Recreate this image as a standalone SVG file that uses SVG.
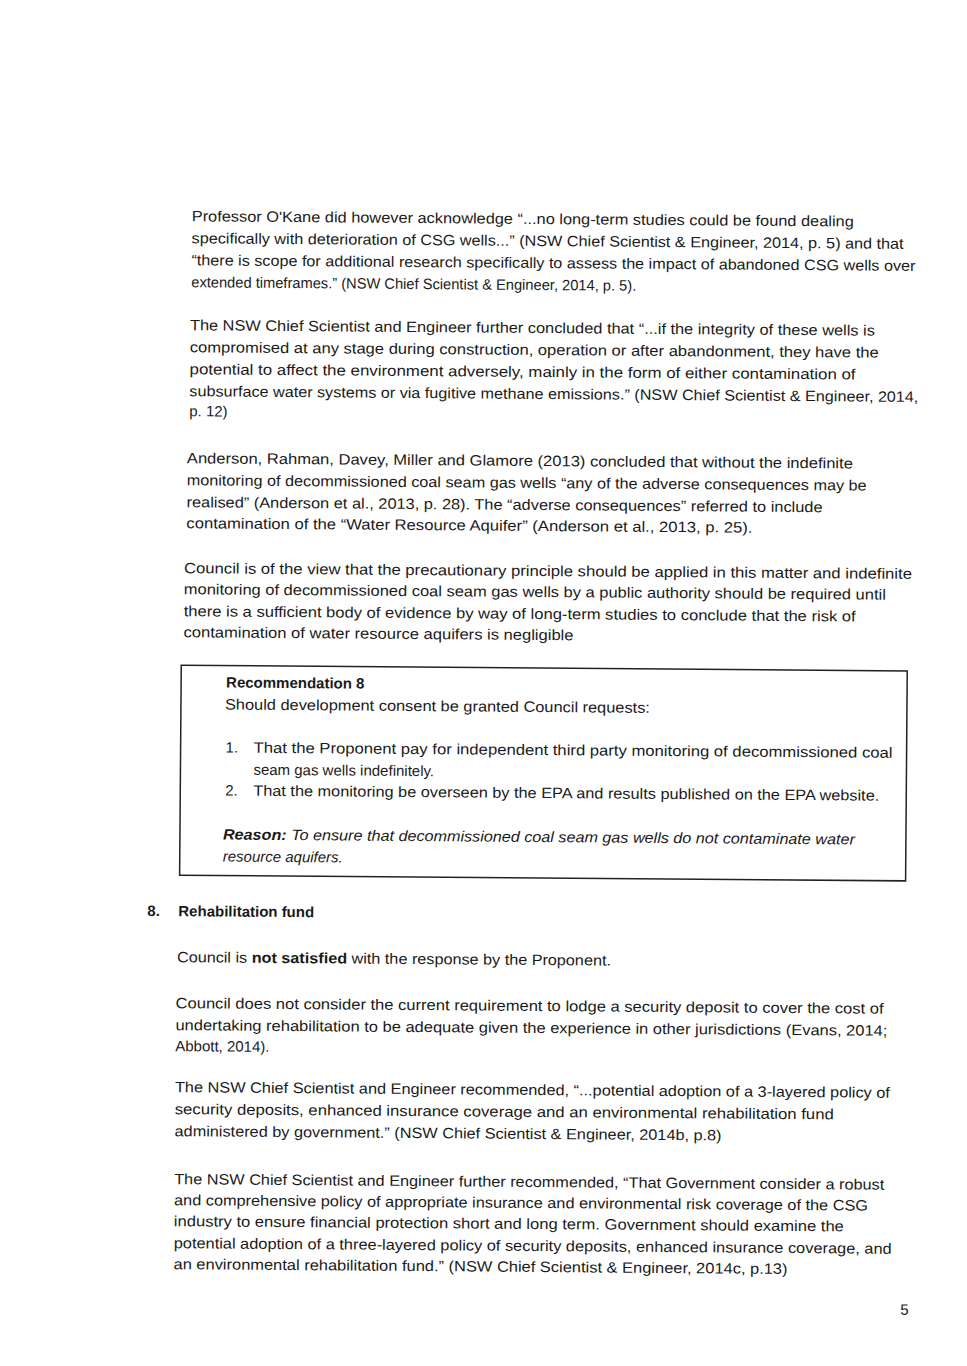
<svg xmlns="http://www.w3.org/2000/svg" width="967" height="1366" viewBox="0 0 967 1366">
<style>
text{font-family:"Liberation Sans",Arial,sans-serif;font-size:15px;fill:#1a1a1a}
.b{font-weight:bold}.i{font-style:italic}
</style>
<rect width="967" height="1366" fill="#fff"/>
<g id="page" transform="rotate(0.45 540 700)">
<text x="188" y="224" textLength="662" lengthAdjust="spacingAndGlyphs">Professor O'Kane did however acknowledge “...no long-term studies could be found dealing</text>
<text x="188" y="246" textLength="712" lengthAdjust="spacingAndGlyphs">specifically with deterioration of CSG wells...” (NSW Chief Scientist &amp; Engineer, 2014, p. 5) and that</text>
<text x="188" y="268" textLength="724" lengthAdjust="spacingAndGlyphs">“there is scope for additional research specifically to assess the impact of abandoned CSG wells over</text>
<text x="188" y="290" textLength="445" lengthAdjust="spacingAndGlyphs">extended timeframes.” (NSW Chief Scientist &amp; Engineer, 2014, p. 5).</text>

<text x="187" y="333" textLength="685" lengthAdjust="spacingAndGlyphs">The NSW Chief Scientist and Engineer further concluded that “...if the integrity of these wells is</text>
<text x="187" y="355" textLength="689" lengthAdjust="spacingAndGlyphs">compromised at any stage during construction, operation or after abandonment, they have the</text>
<text x="187" y="377" textLength="666" lengthAdjust="spacingAndGlyphs">potential to affect the environment adversely, mainly in the form of either contamination of</text>
<text x="187" y="399" textLength="729" lengthAdjust="spacingAndGlyphs">subsurface water systems or via fugitive methane emissions.” (NSW Chief Scientist &amp; Engineer, 2014,</text>
<text x="187" y="419">p. 12)</text>

<text x="185" y="466" textLength="666" lengthAdjust="spacingAndGlyphs">Anderson, Rahman, Davey, Miller and Glamore (2013) concluded that without the indefinite</text>
<text x="185" y="488" textLength="680" lengthAdjust="spacingAndGlyphs">monitoring of decommissioned coal seam gas wells “any of the adverse consequences may be</text>
<text x="185" y="510" textLength="636" lengthAdjust="spacingAndGlyphs">realised” (Anderson et al., 2013, p. 28). The “adverse consequences” referred to include</text>
<text x="185" y="531" textLength="566" lengthAdjust="spacingAndGlyphs">contamination of the “Water Resource Aquifer” (Anderson et al., 2013, p. 25).</text>

<text x="183" y="576" textLength="728" lengthAdjust="spacingAndGlyphs">Council is of the view that the precautionary principle should be applied in this matter and indefinite</text>
<text x="183" y="597" textLength="702" lengthAdjust="spacingAndGlyphs">monitoring of decommissioned coal seam gas wells by a public authority should be required until</text>
<text x="183" y="619" textLength="672" lengthAdjust="spacingAndGlyphs">there is a sufficient body of evidence by way of long-term studies to conclude that the risk of</text>
<text x="183" y="640" textLength="390" lengthAdjust="spacingAndGlyphs">contamination of water resource aquifers is negligible</text>

<g id="recommendation">
<rect x="181" y="668" width="726" height="210" fill="none" stroke="#222" stroke-width="1.5"/>
<text x="226" y="690" class="b">Recommendation 8</text>
<text x="225" y="712" textLength="425" lengthAdjust="spacingAndGlyphs">Should development consent be granted Council requests:</text>
<text x="226" y="755">1.</text>
<text x="254" y="755" textLength="639" lengthAdjust="spacingAndGlyphs">That the Proponent pay for independent third party monitoring of decommissioned coal</text>
<text x="254" y="777">seam gas wells indefinitely.</text>
<text x="226" y="798">2.</text>
<text x="254" y="798" textLength="626" lengthAdjust="spacingAndGlyphs">That the monitoring be overseen by the EPA and results published on the EPA website.</text>
<text x="224" y="842" class="i" textLength="632" lengthAdjust="spacingAndGlyphs"><tspan class="b">Reason:</tspan> To ensure that decommissioned coal seam gas wells do not contaminate water</text>
<text x="224" y="864" class="i">resource aquifers.</text>
</g>

<text x="149" y="919" class="b">8.</text>
<text x="180" y="919" class="b">Rehabilitation fund</text>
<text x="179" y="965" textLength="434" lengthAdjust="spacingAndGlyphs">Council is <tspan class="b">not satisfied</tspan> with the response by the Proponent.</text>

<text x="178" y="1011" textLength="708" lengthAdjust="spacingAndGlyphs">Council does not consider the current requirement to lodge a security deposit to cover the cost of</text>
<text x="178" y="1033" textLength="712" lengthAdjust="spacingAndGlyphs">undertaking rehabilitation to be adequate given the experience in other jurisdictions (Evans, 2014;</text>
<text x="178" y="1054">Abbott, 2014).</text>

<text x="178" y="1095" textLength="715" lengthAdjust="spacingAndGlyphs">The NSW Chief Scientist and Engineer recommended, “...potential adoption of a 3-layered policy of</text>
<text x="178" y="1117" textLength="659" lengthAdjust="spacingAndGlyphs">security deposits, enhanced insurance coverage and an environmental rehabilitation fund</text>
<text x="178" y="1139" textLength="547" lengthAdjust="spacingAndGlyphs">administered by government.” (NSW Chief Scientist &amp; Engineer, 2014b, p.8)</text>

<text x="178" y="1187" textLength="710" lengthAdjust="spacingAndGlyphs">The NSW Chief Scientist and Engineer further recommended, “That Government consider a robust</text>
<text x="178" y="1208" textLength="694" lengthAdjust="spacingAndGlyphs">and comprehensive policy of appropriate insurance and environmental risk coverage of the CSG</text>
<text x="178" y="1229" textLength="670" lengthAdjust="spacingAndGlyphs">industry to ensure financial protection short and long term. Government should examine the</text>
<text x="178" y="1251" textLength="718" lengthAdjust="spacingAndGlyphs">potential adoption of a three-layered policy of security deposits, enhanced insurance coverage, and</text>
<text x="178" y="1272" textLength="614" lengthAdjust="spacingAndGlyphs">an environmental rehabilitation fund.” (NSW Chief Scientist &amp; Engineer, 2014c, p.13)</text>

<text x="905" y="1312">5</text>
</g>
</svg>
